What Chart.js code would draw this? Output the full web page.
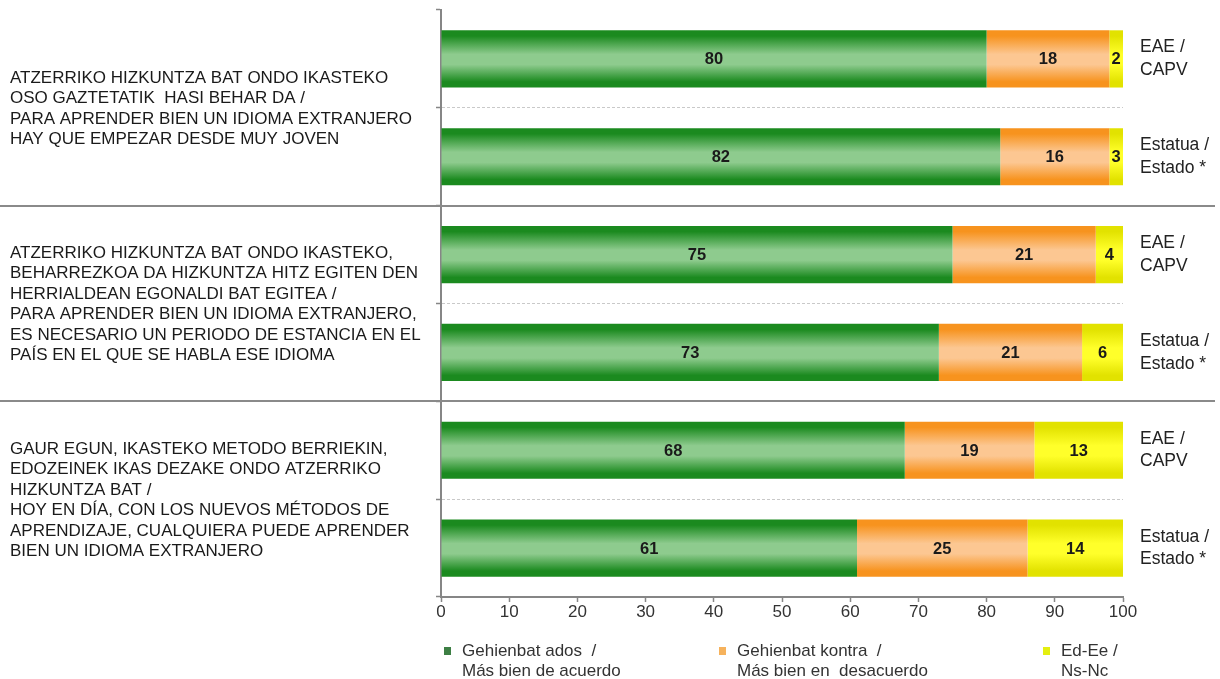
<!DOCTYPE html>
<html>
<head>
<meta charset="utf-8">
<script src="https://cdn.jsdelivr.net/npm/chart.js@4.4.1/dist/chart.umd.min.js"></script>
<style>
  html, body { margin: 0; padding: 0; background: #ffffff; }
  #wrap { width: 1220px; height: 679px; position: relative; }
</style>
</head>
<body>
<div id="wrap"><canvas id="c" width="1220" height="679"></canvas></div>
<script>
// ---- Data ----
const rightLabels = [
  ['EAE /', 'CAPV'], ['Estatua /', 'Estado *'],
  ['EAE /', 'CAPV'], ['Estatua /', 'Estado *'],
  ['EAE /', 'CAPV'], ['Estatua /', 'Estado *']
];
const groupLabels = [
  ['ATZERRIKO HIZKUNTZA BAT ONDO IKASTEKO',
   'OSO GAZTETATIK  HASI BEHAR DA /',
   'PARA APRENDER BIEN UN IDIOMA EXTRANJERO',
   'HAY QUE EMPEZAR DESDE MUY JOVEN'],
  ['ATZERRIKO HIZKUNTZA BAT ONDO IKASTEKO,',
   'BEHARREZKOA DA HIZKUNTZA HITZ EGITEN DEN',
   'HERRIALDEAN EGONALDI BAT EGITEA /',
   'PARA APRENDER BIEN UN IDIOMA EXTRANJERO,',
   'ES NECESARIO UN PERIODO DE ESTANCIA EN EL',
   'PAÍS EN EL QUE SE HABLA ESE IDIOMA'],
  ['GAUR EGUN, IKASTEKO METODO BERRIEKIN,',
   'EDOZEINEK IKAS DEZAKE ONDO ATZERRIKO',
   'HIZKUNTZA BAT /',
   'HOY EN DÍA, CON LOS NUEVOS MÉTODOS DE',
   'APRENDIZAJE, CUALQUIERA PUEDE APRENDER',
   'BIEN UN IDIOMA EXTRANJERO']
];
const acuerdo    = [80, 82, 75, 73, 68, 61];
const desacuerdo = [18, 16, 21, 21, 19, 25];
const nsnc       = [2, 3, 4, 6, 13, 14];
const seriesNames = [
  ['Gehienbat ados  /', 'Más bien de acuerdo'],
  ['Gehienbat kontra  /', 'Más bien en  desacuerdo'],
  ['Ed-Ee /', 'Ns-Nc']
];
const xTickValues = [0, 10, 20, 30, 40, 50, 60, 70, 80, 90, 100];

// ---- Styles ----
const FONT = "'Liberation Sans', Arial, sans-serif";
const palettes = [
  { dark: '#1b8a1f', light: '#8ecb8e', legend: '#3d7f44' },
  { dark: '#f7931e', light: '#fcc792', legend: '#f6b25c' },
  { dark: '#e2e200', light: '#ffff2a', legend: '#e4ef10' }
];

function gradientFor(p) {
  return function (ctx) {
    const chart = ctx.chart;
    const ys = chart.scales && chart.scales.y;
    if (!chart.chartArea || !ys || ctx.dataIndex === undefined) return p.dark;
    const c = ys.getPixelForValue(ctx.dataIndex);
    const slot = Math.abs(ys.getPixelForValue(1) - ys.getPixelForValue(0));
    const half = slot * 0.585 / 2;
    const g = chart.ctx.createLinearGradient(0, c - half, 0, c + half);
    g.addColorStop(0, p.dark);
    g.addColorStop(0.1, p.dark);
    g.addColorStop(0.42, p.light);
    g.addColorStop(0.6, p.light);
    g.addColorStop(0.9, p.dark);
    g.addColorStop(1, p.dark);
    return g;
  };
}

const decor = {
  id: 'decor',
  afterDatasetsDraw(chart) {
    const ctx = chart.ctx;
    const area = chart.chartArea;
    ctx.save();
    ctx.font = "bold 16.5px " + FONT;
    ctx.fillStyle = '#1a1a1a';
    ctx.textAlign = 'center';
    ctx.textBaseline = 'middle';
    chart.data.datasets.forEach((ds, di) => {
      const meta = chart.getDatasetMeta(di);
      meta.data.forEach((el, i) => {
        const x1 = Math.min(el.x, area.right);
        const x0 = Math.max(el.base, area.left);
        ctx.fillText(String(ds.data[i]), (x0 + x1) / 2, el.y + 1);
      });
    });
    ctx.restore();
  },
  afterDraw(chart) {
    const ctx = chart.ctx;
    const ys = chart.scales.y;
    const area = chart.chartArea;
    ctx.save();
    // group separators
    ctx.strokeStyle = '#8a8a8a';
    ctx.lineWidth = 2;
    [2, 4].forEach(k => {
      const y = Math.round((ys.getPixelForValue(k - 1) + ys.getPixelForValue(k)) / 2);
      ctx.beginPath();
      ctx.moveTo(0, y);
      ctx.lineTo(1215, y);
      ctx.stroke();
    });
    // group labels
    ctx.font = "17px " + FONT;
    ctx.fillStyle = '#1a1a1a';
    ctx.textAlign = 'left';
    ctx.textBaseline = 'middle';
    const lh = 20.5;
    groupLabels.forEach((lines, g) => {
      const cy = (ys.getPixelForValue(2 * g) + ys.getPixelForValue(2 * g + 1)) / 2 + 1;
      const top = cy - (lines.length - 1) * lh / 2;
      lines.forEach((t, j) => ctx.fillText(t, 10, top + j * lh));
    });
    // legend
    const legendX = [area.left + 3, area.left + 278, area.left + 602];
    const ly = 651;
    ctx.font = "17px " + FONT;
    seriesNames.forEach((lines, i) => {
      ctx.fillStyle = palettes[i].legend;
      ctx.fillRect(legendX[i], ly - 4, 7, 8);
      ctx.fillStyle = '#333333';
      lines.forEach((t, j) => ctx.fillText(t, legendX[i] + 18, ly + j * 20));
    });
    ctx.restore();
  }
};

function noPad(s) { s.paddingTop = 0; s.paddingBottom = 0; }

new Chart(document.getElementById('c'), {
  type: 'bar',
  data: {
    labels: rightLabels.map(l => l.join(' ')),
    datasets: [
      { label: seriesNames[0].join(' '), data: acuerdo, backgroundColor: gradientFor(palettes[0]) },
      { label: seriesNames[1].join(' '), data: desacuerdo, backgroundColor: gradientFor(palettes[1]) },
      { label: seriesNames[2].join(' '), data: nsnc, backgroundColor: gradientFor(palettes[2]) }
    ]
  },
  options: {
    indexAxis: 'y',
    responsive: false,
    animation: false,
    devicePixelRatio: 1,
    layout: { padding: { top: 10, left: 0, right: 0, bottom: 0 } },
    datasets: { bar: { categoryPercentage: 1, barPercentage: 0.585, borderWidth: 0 } },
    plugins: { legend: { display: false }, tooltip: { enabled: false } },
    scales: {
      x: {
        stacked: true, min: 0, max: 100,
        afterBuildTicks: (s) => { s.ticks = xTickValues.map(v => ({ value: v })); },
        afterFit: (s) => { s.height = 82; },
        grid: { drawOnChartArea: false, drawTicks: true, tickLength: 5, tickColor: '#868686', tickWidth: 1.5 },
        border: { color: '#868686', width: 2 },
        ticks: { padding: 0, color: '#333333', font: { family: FONT, size: 17 } }
      },
      y: {
        stacked: true,
        offset: true,
        afterFit: (s) => { s.width = 441; noPad(s); },
        grid: {
          offset: true,
          drawTicks: true, tickLength: 5, tickColor: '#868686', tickWidth: 1.5,
          color: (c) => ([1, 3, 5].includes(c.index) ? '#c9c9c9' : 'rgba(0,0,0,0)'),
          lineWidth: 1
        },
        border: { color: '#868686', width: 2, dash: [3, 2] },
        ticks: { display: false }
      },
      y2: {
        type: 'category',
        position: 'right',
        labels: rightLabels,
        offset: true,
        afterFit: (s) => { s.width = 97; noPad(s); },
        grid: { display: false, drawTicks: false },
        border: { display: false },
        ticks: { padding: 17, color: '#222222', font: { family: FONT, size: 17.5, lineHeight: 1.3 } }
      }
    }
  },
  plugins: [decor]
});
</script>
</body>
</html>
